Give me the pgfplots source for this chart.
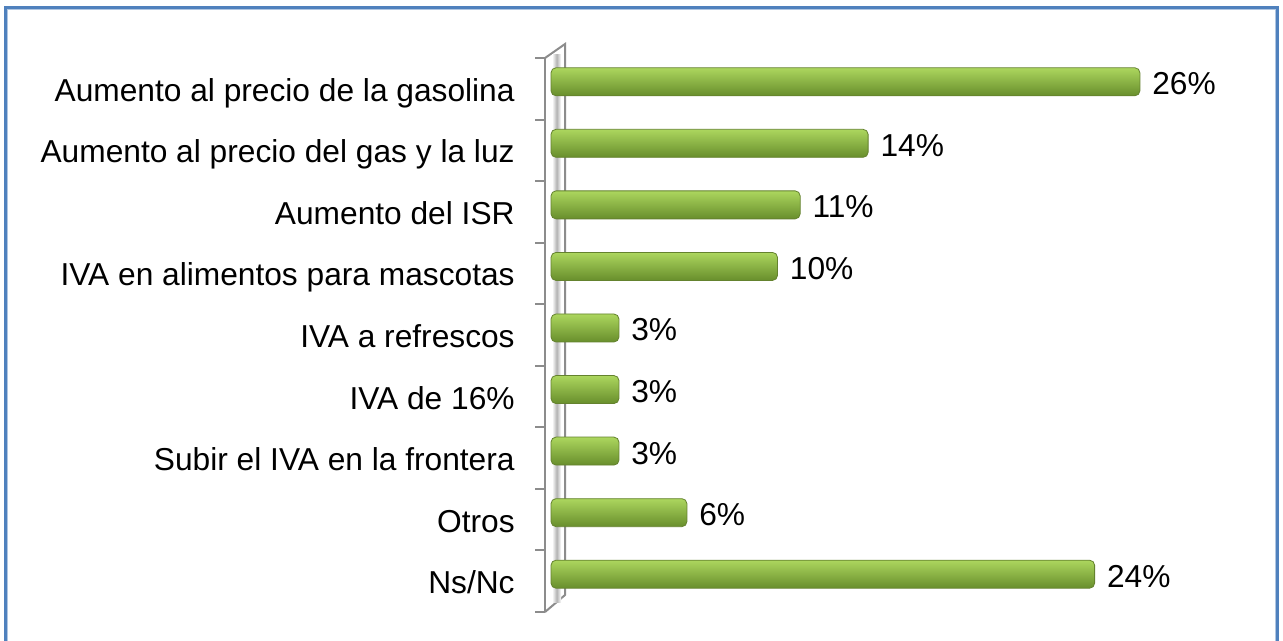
\documentclass[border=0pt]{standalone}
\usepackage{pgfplots}
\pgfplotsset{compat=1.18}
\usepackage{fontspec}
\setmainfont{Liberation Sans}
\definecolor{barTop}{RGB}{172,214,94}
\definecolor{barMid}{RGB}{146,194,66}
\definecolor{barBot}{RGB}{104,142,44}
\definecolor{barEdge}{RGB}{100,130,46}
\definecolor{wallGray}{RGB}{140,140,140}
\definecolor{frameBlue}{RGB}{79,129,189}
\begin{document}
\begin{tikzpicture}
\useasboundingbox (0,0) rectangle (641.5pt,320.5pt);
\fill[white] (0,0) rectangle (641.5pt,320.5pt);
\draw[frameBlue, line width=1.2pt] (2.8pt,-5pt) rectangle (638.8pt,316.8pt);
\draw[frameBlue!45, line width=0.5pt] (3.8pt,-5pt) -- (3.8pt,315.8pt) -- (637.8pt,315.8pt) -- (637.8pt,-5pt);
\begin{axis}[
  at={(272.5pt,14.5pt)}, anchor=south west,
  scale only axis, width=352.5pt, height=277pt,
  xmin=-0.265, xmax=30.86,
  ymin=-0.5, ymax=8.5, y dir=reverse,
  axis x line=none,
  axis y line*=left,
  y axis line style={wallGray, line width=1pt, -},
  ytick={0,...,8},
  yticklabels={Aumento al precio de la gasolina,Aumento al precio del gas y la luz,Aumento del ISR,IVA en alimentos para mascotas,IVA a refrescos,IVA de 16\%,Subir el IVA en la frontera,Otros,Ns/Nc},
  major tick length=0pt,
  yticklabel style={anchor=base east, inner sep=0pt, xshift=-15pt, yshift=-6.25pt, font=\fontsize{15.85}{19}\selectfont},
  extra y ticks={-0.5,0.5,...,8.5},
  extra y tick labels={},
  extra y tick style={major tick length=5pt, tick align=outside, major tick style={wallGray, line width=1pt}},
  clip=false,
  xbar, bar width=14pt, bar shift=0pt,
  point meta=x,
  nodes near coords={\pgfmathprintnumber[assume math mode=true]{\pgfplotspointmeta}\%},
  nodes near coords align={horizontal},
  every node near coord/.append style={anchor=base west, inner sep=0pt, xshift=6pt, yshift=-6.5pt, font=\fontsize{15.85}{19}\selectfont, black},
  greenbar/.style={draw=barEdge, line width=0.4pt, top color=barTop, middle color=barMid, bottom color=barBot, rounded corners=2.5pt},
]
% back wall
\draw[wallGray, line width=1pt] (axis cs:-0.265,-0.5) -- (axis cs:0.618,-0.727) -- (axis cs:0.618,8.224) -- (axis cs:-0.265,8.5);
\shade[left color=white, right color=white, middle color=black!30] (axis cs:0.05,-0.55) rectangle (axis cs:0.45,8.35);
\draw[wallGray, line width=1pt] (axis cs:0.618,-0.727) -- (axis cs:0.618,8.224);
\addplot[greenbar] coordinates {(26,-0.114)};
\addplot[greenbar] coordinates {(14,0.886)};
\addplot[greenbar] coordinates {(11,1.886)};
\addplot[greenbar] coordinates {(10,2.886)};
\addplot[greenbar] coordinates {(3,3.886)};
\addplot[greenbar] coordinates {(3,4.886)};
\addplot[greenbar] coordinates {(3,5.886)};
\addplot[greenbar] coordinates {(6,6.886)};
\addplot[greenbar] coordinates {(24,7.886)};
\end{axis}
\end{tikzpicture}
\end{document}
